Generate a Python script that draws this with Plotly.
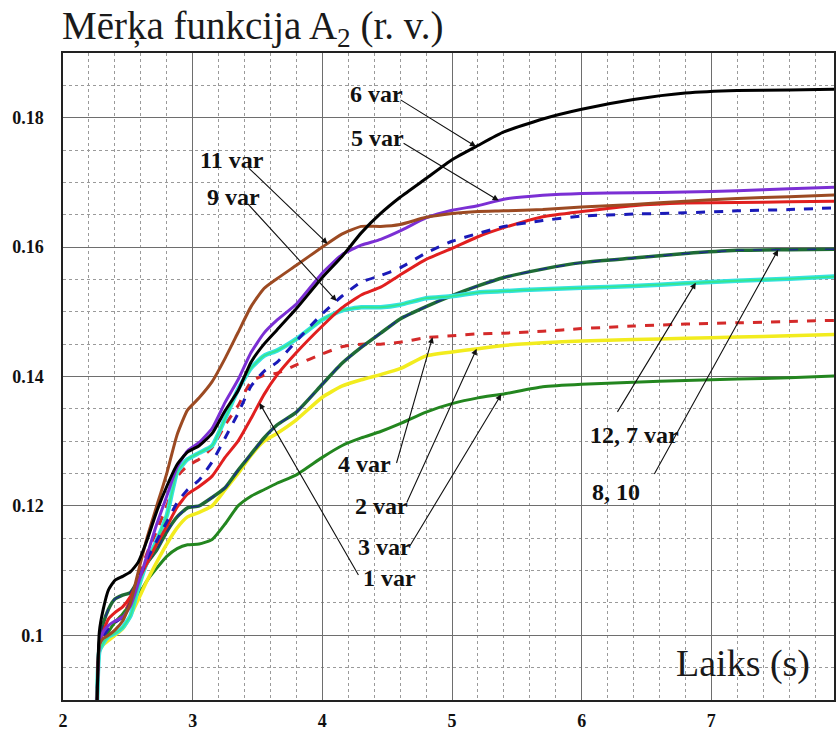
import numpy as np
import plotly.graph_objects as go

# Time axis (s)
t = [2.262, 2.28, 2.31, 2.35, 2.40, 2.46, 2.52, 2.58, 2.65, 2.72, 2.80, 2.88, 2.96,
     3.05, 3.15, 3.25, 3.35, 3.45, 3.55, 3.65, 3.8, 4.0, 4.15, 4.3, 4.45, 4.6, 4.8,
     5.0, 5.2, 5.4, 5.7, 6.0, 6.4, 6.8, 7.2, 7.6, 8.0]

# Objective function A2 (r. u.) for each variant
var6 = [0.0890, 0.1005, 0.1040, 0.1070, 0.1085, 0.1091, 0.1098, 0.1113, 0.1148, 0.1190, 0.1230, 0.1264, 0.1283,
        0.1293, 0.1312, 0.1347, 0.1378, 0.1422, 0.1450, 0.1472, 0.1505, 0.1553, 0.1585, 0.1622, 0.1652, 0.1677, 0.1706,
        0.1735, 0.1757, 0.1778, 0.1798, 0.1813, 0.1828, 0.1838, 0.1842, 0.1843, 0.1844]
var11 = [0.0890, 0.0985, 0.0995, 0.1000, 0.1008, 0.1022, 0.1050, 0.1098, 0.1152, 0.1198, 0.1250, 0.1310, 0.1348,
         0.1367, 0.1392, 0.1428, 0.1468, 0.1508, 0.1536, 0.1551, 0.1572, 0.1600, 0.1620, 0.1632, 0.1632, 0.1635, 0.1646,
         0.1652, 0.1655, 0.1656, 0.1658, 0.1662, 0.1666, 0.1671, 0.1675, 0.1678, 0.1681]
var5 = [0.0890, 0.0988, 0.1005, 0.1015, 0.1022, 0.1028, 0.1045, 0.1080, 0.1125, 0.1170, 0.1215, 0.1260, 0.1285,
        0.1298, 0.1320, 0.1360, 0.1395, 0.1437, 0.1467, 0.1487, 0.1512, 0.1560, 0.1588, 0.1603, 0.1612, 0.1625, 0.1645,
        0.1657, 0.1664, 0.1674, 0.1680, 0.1683, 0.1684, 0.1685, 0.1687, 0.1690, 0.1693]
var12 = [0.0890, 0.0975, 0.0988, 0.0998, 0.1003, 0.1012, 0.1030, 0.1073, 0.1115, 0.1145, 0.1185, 0.1252, 0.1272,
         0.1282, 0.1293, 0.1335, 0.1380, 0.1413, 0.1432, 0.1440, 0.1458, 0.1488, 0.1502, 0.1507, 0.1507, 0.1511, 0.1521,
         0.1524, 0.1530, 0.1532, 0.1535, 0.1537, 0.1540, 0.1544, 0.1548, 0.1551, 0.1555]
var7 = var12  # coincides with variant 12
var9 = [0.0890, 0.0985, 0.0998, 0.1010, 0.1020, 0.1028, 0.1050, 0.1085, 0.1118, 0.1145, 0.1175, 0.1205, 0.1225,
        0.1240, 0.1268, 0.1305, 0.1343, 0.1385, 0.1408, 0.1422, 0.1455, 0.1497, 0.1524, 0.1546, 0.1556, 0.1568, 0.1591,
        0.1609, 0.1621, 0.1632, 0.1641, 0.1648, 0.1651, 0.1653, 0.1656, 0.1658, 0.1661]
var1 = [0.0890, 0.0985, 0.1005, 0.1025, 0.1035, 0.1044, 0.1060, 0.1085, 0.1112, 0.1140, 0.1168, 0.1198, 0.1218,
        0.1230, 0.1246, 0.1275, 0.1300, 0.1335, 0.1372, 0.1402, 0.1437, 0.1478, 0.1506, 0.1526, 0.1538, 0.1557, 0.1581,
        0.1598, 0.1616, 0.1630, 0.1647, 0.1655, 0.1664, 0.1668, 0.1669, 0.1670, 0.1671]
var4 = [0.0890, 0.0985, 0.1000, 0.1012, 0.1020, 0.1030, 0.1055, 0.1090, 0.1128, 0.1160, 0.1200, 0.1245, 0.1262,
        0.1272, 0.1290, 0.1325, 0.1355, 0.1392, 0.1402, 0.1405, 0.1418, 0.1435, 0.1446, 0.1450, 0.1450, 0.1453, 0.1460,
        0.1463, 0.1466, 0.1467, 0.1470, 0.1474, 0.1478, 0.1481, 0.1483, 0.1485, 0.1487]
var8 = [0.0890, 0.0988, 0.1018, 0.1040, 0.1056, 0.1062, 0.1066, 0.1085, 0.1112, 0.1131, 0.1160, 0.1183, 0.1197,
        0.1200, 0.1213, 0.1228, 0.1255, 0.1280, 0.1305, 0.1325, 0.1345, 0.1388, 0.1420, 0.1445, 0.1467, 0.1489, 0.1508,
        0.1525, 0.1540, 0.1553, 0.1566, 0.1576, 0.1583, 0.1590, 0.1595, 0.1596, 0.1597]
var10 = var8  # coincides with variant 8
var2 = [0.0890, 0.0975, 0.0985, 0.0992, 0.1000, 0.1010, 0.1030, 0.1055, 0.1085, 0.1112, 0.1141, 0.1166, 0.1183,
        0.1190, 0.1200, 0.1225, 0.1250, 0.1278, 0.1300, 0.1312, 0.1333, 0.1368, 0.1385, 0.1395, 0.1403, 0.1412, 0.1432,
        0.1438, 0.1443, 0.1448, 0.1452, 0.1455, 0.1457, 0.1459, 0.1461, 0.1463, 0.1465]
var3 = [0.0890, 0.0975, 0.0990, 0.1005, 0.1020, 0.1033, 0.1048, 0.1062, 0.1085, 0.1103, 0.1122, 0.1134, 0.1140,
        0.1141, 0.1148, 0.1172, 0.1200, 0.1215, 0.1225, 0.1235, 0.1248, 0.1275, 0.1293, 0.1305, 0.1315, 0.1327, 0.1345,
        0.1358, 0.1367, 0.1373, 0.1384, 0.1388, 0.1391, 0.1394, 0.1396, 0.1398, 0.1401]

# Axis settings
x_range = [2, 7.946]
y_range = [0.09, 0.19]
x_ticks = [2, 3, 4, 5, 6, 7]
y_ticks = [0.10, 0.12, 0.14, 0.16, 0.18]
y_tick_text = ["0.1", "0.12", "0.14", "0.16", "0.18"]

# (name, values, color, width, dash), drawn bottom to top
series = [
    ("3 var", var3, "#23861f", 3, "solid"),
    ("2 var", var2, "#f2ec1e", 3.5, "solid"),
    ("4 var", var4, "#d42a2a", 3, "dash"),
    ("8 var", var8, "#1e6b35", 3.5, "solid"),
    ("10 var", var10, "#1c2e86", 1.5, "dash"),
    ("12 var", var12, "#33e2e2", 4.5, "solid"),
    ("7 var", var7, "#36e68e", 1.8, "solid"),
    ("1 var", var1, "#e11f1f", 3, "solid"),
    ("9 var", var9, "#1a1ab8", 3, "dash"),
    ("5 var", var5, "#7b2fd4", 3, "solid"),
    ("11 var", var11, "#9c4a22", 3, "solid"),
    ("6 var", var6, "#000000", 3, "solid"),
]

fig = go.Figure()
for name, vals, color, width, dash in series:
    fig.add_trace(go.Scatter(
        x=t, y=vals, mode="lines", name=name,
        line=dict(color=color, width=width, dash=dash, shape="spline", smoothing=0.5),
        showlegend=False, hoverinfo="skip",
    ))

serif = "Liberation Serif, Times New Roman, serif"
label_font = dict(family=serif, size=24, color="#111111")

# Callouts: (text, label position, arrow tail, arrow tip time, series pointed at)
callouts = [
    ("6 var", (4.415, 0.1837), (4.592, 0.1829), 5.185, var6),
    ("5 var", (4.423, 0.1769), (4.615, 0.1762), 5.36, var5),
    ("11 var", (3.300, 0.1734), (3.423, 0.1724), 4.04, var11),
    ("9 var", (3.315, 0.1677), (3.415, 0.1669), 4.11, var9),
    ("4 var", (4.323, 0.1264), (4.569, 0.1264), 4.85, var4),
    ("2 var", (4.454, 0.1200), (4.646, 0.1203), 5.19, var2),
    ("3 var", (4.477, 0.1137), (4.669, 0.1136), 5.38, var3),
    ("1 var", (4.515, 0.1088), (4.285, 0.1091), 3.515, var1),
    ("12, 7 var", (6.408, 0.1309), (6.269, 0.1343), 6.88, var12),
    ("8, 10", (6.262, 0.1222), (6.554, 0.1247), 7.515, var8),
]

annotations = []
for text, (lx, ly), (tx, ty), hx, vals in callouts:
    hy = float(np.interp(hx, t, vals))
    annotations.append(dict(
        x=hx, y=hy, xref="x", yref="y", ax=tx, ay=ty, axref="x", ayref="y",
        text="", showarrow=True, arrowhead=2, arrowsize=1.1, arrowwidth=1.1,
        arrowcolor="#111111", standoff=0,
    ))
    annotations.append(dict(
        x=lx, y=ly, xref="x", yref="y", text="<b>%s</b>" % text, showarrow=False,
        font=label_font, xanchor="center", yanchor="middle",
    ))

# Axis titles placed inside/above the frame
annotations.append(dict(
    x=-0.004, y=1.038, xref="paper", yref="paper", xanchor="left", yanchor="middle",
    text="Mērķa funkcija A<sub>2</sub> (r. v.)", showarrow=False,
    font=dict(family=serif, size=39, color="#1a1a1a"),
))
annotations.append(dict(
    x=0.882, y=0.056, xref="paper", yref="paper", xanchor="center", yanchor="middle",
    text="Laiks (s)", showarrow=False,
    font=dict(family=serif, size=38, color="#1a1a1a"),
))
# Tick label for t = 8 s, which sits at the cut right edge
annotations.append(dict(
    x=(8 - x_range[0]) / (x_range[1] - x_range[0]), y=0, xref="paper", yref="paper",
    xanchor="center", yanchor="top", yshift=-6, text="<b>8</b>", showarrow=False,
    font=dict(family=serif, size=18, color="#111111"),
))

tick_font = dict(family=serif, size=18, color="#111111")
major_grid = dict(showgrid=True, gridcolor="#6e6e6e", gridwidth=1.3, zeroline=False)

fig.update_layout(
    width=836, height=731,
    margin=dict(l=63, r=0, t=53, b=28),
    paper_bgcolor="white", plot_bgcolor="white",
    annotations=annotations,
    xaxis=dict(
        range=x_range, tickvals=x_ticks, ticktext=["<b>%d</b>" % v for v in x_ticks],
        tickfont=tick_font, ticks="", ticklabelstandoff=4, **major_grid,
        showline=True, linecolor="#222222", linewidth=1.5, mirror=True,
        minor=dict(dtick=0.2, tick0=2, showgrid=True, gridcolor="#9a9a9a", gridwidth=1, griddash="dot"),
    ),
    yaxis=dict(
        range=y_range, tickvals=y_ticks, ticktext=["<b>%s</b>" % s for s in y_tick_text],
        tickfont=tick_font, ticks="", ticklabelstandoff=14, **major_grid,
        showline=True, linecolor="#222222", linewidth=1.5, mirror=True,
        minor=dict(dtick=0.005, tick0=0.09, showgrid=True, gridcolor="#9a9a9a", gridwidth=1, griddash="dot"),
    ),
    # unlabeled companion axis carrying the solid 0.01 grid
    yaxis2=dict(
        range=y_range, overlaying="y", side="left", dtick=0.01, tick0=0.09,
        showticklabels=False, ticks="", **major_grid, showline=False,
    ),
)

fig.write_html("out.html")
